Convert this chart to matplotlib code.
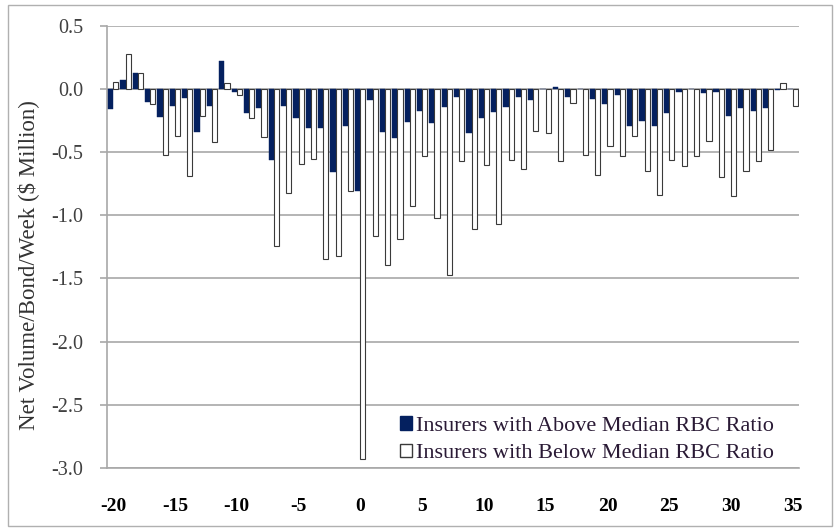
import numpy as np
import matplotlib
matplotlib.use("Agg")
import matplotlib.pyplot as plt
from matplotlib.patches import Rectangle, Patch

plt.rcParams["axes.unicode_minus"] = False

# weeks relative to the event
weeks = list(range(-20, 36))

# net volume per bond per week ($ million)
above_median = [
    -0.16, 0.07, 0.13, -0.10, -0.22, -0.13, -0.07, -0.34, -0.13, 0.225,
    -0.02, -0.19, -0.15, -0.56, -0.13, -0.23, -0.31, -0.31, -0.66, -0.29,
    -0.81, -0.09, -0.34, -0.39, -0.26, -0.17, -0.27, -0.14, -0.06, -0.35,
    -0.23, -0.18, -0.14, -0.06, -0.09, 0.0, 0.015, -0.06, 0.0, -0.08,
    -0.115, -0.05, -0.29, -0.25, -0.29, -0.19, -0.02, 0.0, -0.03, -0.02,
    -0.21, -0.15, -0.17, -0.15, -0.01, 0.0,
]
below_median = [
    0.06, 0.28, 0.13, -0.12, -0.52, -0.37, -0.69, -0.21, -0.42, 0.05,
    -0.05, -0.23, -0.38, -1.24, -0.82, -0.59, -0.55, -1.35, -1.32, -0.81,
    -2.93, -1.16, -1.39, -1.19, -0.93, -0.53, -1.02, -1.47, -0.57, -1.11,
    -0.60, -1.07, -0.56, -0.63, -0.33, -0.35, -0.57, -0.11, -0.52, -0.68,
    -0.45, -0.53, -0.37, -0.65, -0.84, -0.56, -0.61, -0.53, -0.41, -0.70,
    -0.85, -0.65, -0.57, -0.48, 0.045, -0.13,
]
legend_labels = ["Insurers with Above Median RBC Ratio",
                 "Insurers with Below Median RBC Ratio"]

navy = "#04205f"
serif = ["Liberation Serif", "DejaVu Serif"]

fig = plt.figure(figsize=(8.37, 5.31), dpi=100)
fig.patch.set_facecolor("white")
# chart area border
fig.patches.append(Rectangle((0.010, 0.010), 0.984, 0.980, transform=fig.transFigure,
                             fill=False, edgecolor="#b0b0b0", linewidth=1.0))

ax = fig.add_axes([0.1278, 0.1192, 0.8268, 0.8318])

x = np.array(weeks, dtype=float)
w = 0.42
ax.bar(x - w / 2, above_median, width=w, color=navy, edgecolor=navy,
       linewidth=0.3, zorder=3)
ax.bar(x + w / 2, below_median, width=w, color="white", edgecolor="#3a3a3a",
       linewidth=0.8, zorder=3)

ax.set_xlim(-20.5, 35.5)
ax.set_ylim(-3.0, 0.5)
ax.set_yticks(np.arange(-3.0, 0.51, 0.5))
ax.set_yticklabels([f"{v:.1f}" for v in np.arange(-3.0, 0.51, 0.5)])
ax.set_xticks(np.arange(-20, 36, 5))

ax.yaxis.grid(True, color="#a8a8a8", linewidth=1.2, zorder=0)
ax.set_axisbelow(True)
for side in ["top", "right"]:
    ax.spines[side].set_visible(False)
ax.spines["left"].set_color("#a8a8a8")
ax.spines["left"].set_linewidth(1.2)
ax.spines["bottom"].set_color("#a8a8a8")
ax.spines["bottom"].set_linewidth(1.2)

ax.tick_params(axis="y", direction="out", length=5, width=1.2, color="#a8a8a8",
               pad=12, labelsize=14.5, labelcolor="#404040")
ax.tick_params(axis="x", length=0, pad=22, labelsize=14)
for lab in ax.get_yticklabels():
    lab.set_family(serif)
for lab in ax.get_xticklabels():
    lab.set_family(serif)
    lab.set_fontweight("bold")

fig.text(0.034, 0.50, "Net Volume/Bond/Week ($ Million)", rotation=90,
         ha="center", va="center", fontsize=16.5, family=serif, color="#333333")

handles = [Patch(facecolor=navy, edgecolor=navy),
           Patch(facecolor="white", edgecolor="#3a3a3a", linewidth=1.0)]
leg = ax.legend(handles, legend_labels, loc="lower right",
                bbox_to_anchor=(0.99, -0.03), frameon=False, handlelength=0.55,
                handleheight=0.55, handletextpad=0.2, labelspacing=0.35,
                borderpad=0.3, prop={"family": serif, "size": 16})
for t in leg.get_texts():
    t.set_color("#2a1a35")

fig.savefig("out.png", dpi=100, facecolor="white")
